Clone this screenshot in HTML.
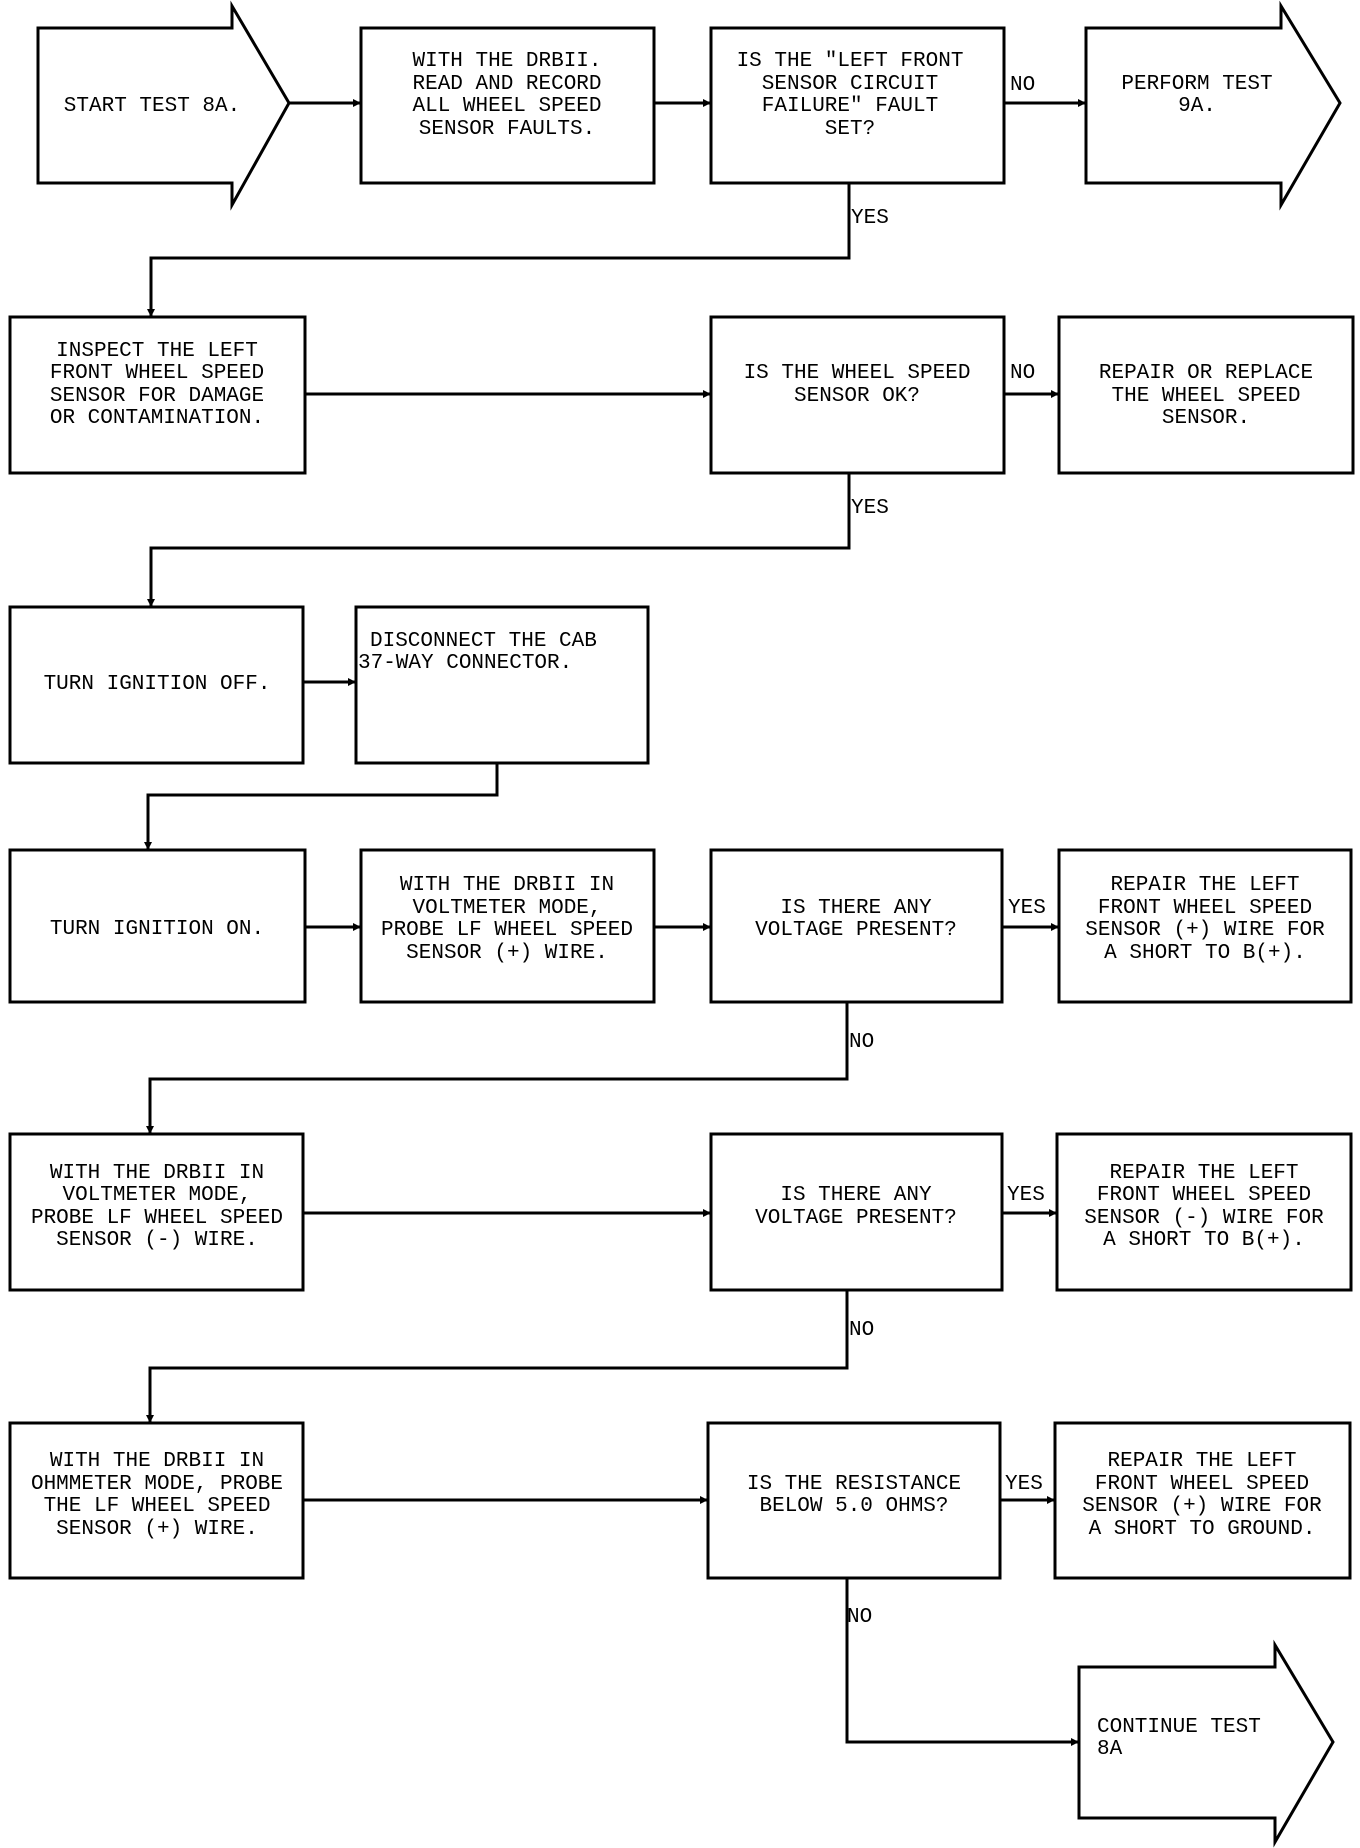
<!DOCTYPE html>
<html><head><meta charset="utf-8"><style>
html,body{margin:0;padding:0;background:#fff;}
svg{display:block;}
text{font-family:"Liberation Mono",monospace;font-size:21px;fill:#000;}
</style></head><body>
<svg width="1360" height="1848" viewBox="0 0 1360 1848" xmlns="http://www.w3.org/2000/svg">
<defs>
<marker id="a" markerWidth="8" markerHeight="8" refX="7" refY="4" orient="auto" markerUnits="userSpaceOnUse"><path d="M0,0 L8,4 L0,8 z" fill="#000"/></marker>
</defs>
<g fill="none" stroke="#000" stroke-width="3">
<!-- arrows -->
<path d="M38,28 L232,28 L232,6 L289,103 L232,205 L232,183 L38,183 Z"/>
<path d="M1086,28 L1281,28 L1281,6 L1340,103 L1281,205 L1281,183 L1086,183 Z"/>
<path d="M1079,1667 L1275,1667 L1275,1645 L1333,1742 L1275,1842 L1275,1818 L1079,1818 Z"/>
<!-- boxes -->
<rect x="361" y="28" width="293" height="155"/>
<rect x="711" y="28" width="293" height="155"/>
<rect x="10" y="317" width="295" height="156"/>
<rect x="711" y="317" width="293" height="156"/>
<rect x="1059" y="317" width="294" height="156"/>
<rect x="10" y="607" width="293" height="156"/>
<rect x="356" y="607" width="292" height="156"/>
<rect x="10" y="850" width="295" height="152"/>
<rect x="361" y="850" width="293" height="152"/>
<rect x="711" y="850" width="291" height="152"/>
<rect x="1059" y="850" width="292" height="152"/>
<rect x="10" y="1134" width="293" height="156"/>
<rect x="711" y="1134" width="291" height="156"/>
<rect x="1057" y="1134" width="294" height="156"/>
<rect x="10" y="1423" width="293" height="155"/>
<rect x="708" y="1423" width="292" height="155"/>
<rect x="1055" y="1423" width="295" height="155"/>
</g>
<g fill="none" stroke="#000" stroke-width="3">
<line x1="289" y1="103" x2="360" y2="103" marker-end="url(#a)"/>
<line x1="654" y1="103" x2="710" y2="103" marker-end="url(#a)"/>
<line x1="1004" y1="103" x2="1085" y2="103" marker-end="url(#a)"/>
<polyline points="849,183 849,258 151,258 151,316" marker-end="url(#a)"/>
<line x1="305" y1="394" x2="710" y2="394" marker-end="url(#a)"/>
<line x1="1004" y1="394" x2="1058" y2="394" marker-end="url(#a)"/>
<polyline points="849,473 849,548 151,548 151,606" marker-end="url(#a)"/>
<line x1="303" y1="682" x2="355" y2="682" marker-end="url(#a)"/>
<polyline points="497,763 497,795 148,795 148,849" marker-end="url(#a)"/>
<line x1="305" y1="927" x2="360" y2="927" marker-end="url(#a)"/>
<line x1="654" y1="927" x2="710" y2="927" marker-end="url(#a)"/>
<line x1="1002" y1="927" x2="1058" y2="927" marker-end="url(#a)"/>
<polyline points="847,1002 847,1079 150,1079 150,1133" marker-end="url(#a)"/>
<line x1="303" y1="1213" x2="710" y2="1213" marker-end="url(#a)"/>
<line x1="1002" y1="1213" x2="1056" y2="1213" marker-end="url(#a)"/>
<polyline points="847,1290 847,1368 150,1368 150,1422" marker-end="url(#a)"/>
<line x1="303" y1="1500" x2="707" y2="1500" marker-end="url(#a)"/>
<line x1="1000" y1="1500" x2="1054" y2="1500" marker-end="url(#a)"/>
<polyline points="847,1578 847,1742 1078,1742" marker-end="url(#a)"/>
</g>
<g text-anchor="middle">
<text x="152" y="111">START TEST 8A.</text>
<text x="507" y="66">WITH THE DRBII.</text>
<text x="507" y="89">READ AND RECORD</text>
<text x="507" y="111">ALL WHEEL SPEED</text>
<text x="507" y="134">SENSOR FAULTS.</text>
<text x="850" y="66">IS THE "LEFT FRONT</text>
<text x="850" y="89">SENSOR CIRCUIT</text>
<text x="850" y="111">FAILURE" FAULT</text>
<text x="850" y="134">SET?</text>
<text x="1197" y="89">PERFORM TEST</text>
<text x="1197" y="111">9A.</text>
<text x="157" y="356">INSPECT THE LEFT</text>
<text x="157" y="378">FRONT WHEEL SPEED</text>
<text x="157" y="401">SENSOR FOR DAMAGE</text>
<text x="157" y="423">OR CONTAMINATION.</text>
<text x="857" y="378">IS THE WHEEL SPEED</text>
<text x="857" y="401">SENSOR OK?</text>
<text x="1206" y="378">REPAIR OR REPLACE</text>
<text x="1206" y="401">THE WHEEL SPEED</text>
<text x="1206" y="423">SENSOR.</text>
<text x="157" y="689">TURN IGNITION OFF.</text>
<text x="157" y="934">TURN IGNITION ON.</text>
<text x="507" y="890">WITH THE DRBII IN</text>
<text x="507" y="913">VOLTMETER MODE,</text>
<text x="507" y="935">PROBE LF WHEEL SPEED</text>
<text x="507" y="958">SENSOR (+) WIRE.</text>
<text x="856" y="913">IS THERE ANY</text>
<text x="856" y="935">VOLTAGE PRESENT?</text>
<text x="1205" y="890">REPAIR THE LEFT</text>
<text x="1205" y="913">FRONT WHEEL SPEED</text>
<text x="1205" y="935">SENSOR (+) WIRE FOR</text>
<text x="1205" y="958">A SHORT TO B(+).</text>
<text x="157" y="1178">WITH THE DRBII IN</text>
<text x="157" y="1200">VOLTMETER MODE,</text>
<text x="157" y="1223">PROBE LF WHEEL SPEED</text>
<text x="157" y="1245">SENSOR (-) WIRE.</text>
<text x="856" y="1200">IS THERE ANY</text>
<text x="856" y="1223">VOLTAGE PRESENT?</text>
<text x="1204" y="1178">REPAIR THE LEFT</text>
<text x="1204" y="1200">FRONT WHEEL SPEED</text>
<text x="1204" y="1223">SENSOR (-) WIRE FOR</text>
<text x="1204" y="1245">A SHORT TO B(+).</text>
<text x="157" y="1466">WITH THE DRBII IN</text>
<text x="157" y="1489">OHMMETER MODE, PROBE</text>
<text x="157" y="1511">THE LF WHEEL SPEED</text>
<text x="157" y="1534">SENSOR (+) WIRE.</text>
<text x="854" y="1489">IS THE RESISTANCE</text>
<text x="854" y="1511">BELOW 5.0 OHMS?</text>
<text x="1202" y="1466">REPAIR THE LEFT</text>
<text x="1202" y="1489">FRONT WHEEL SPEED</text>
<text x="1202" y="1511">SENSOR (+) WIRE FOR</text>
<text x="1202" y="1534">A SHORT TO GROUND.</text>
</g>
<text x="370" y="646">DISCONNECT THE CAB</text>
<text x="358" y="668">37-WAY CONNECTOR.</text>
<text x="1097" y="1732">CONTINUE TEST</text>
<text x="1097" y="1754">8A</text>
<text x="1010" y="90">NO</text>
<text x="851" y="223">YES</text>
<text x="1010" y="378">NO</text>
<text x="851" y="513">YES</text>
<text x="1008" y="913">YES</text>
<text x="849" y="1047">NO</text>
<text x="1007" y="1200">YES</text>
<text x="849" y="1335">NO</text>
<text x="1005" y="1489">YES</text>
<text x="847" y="1622">NO</text>
</svg>
</body></html>
